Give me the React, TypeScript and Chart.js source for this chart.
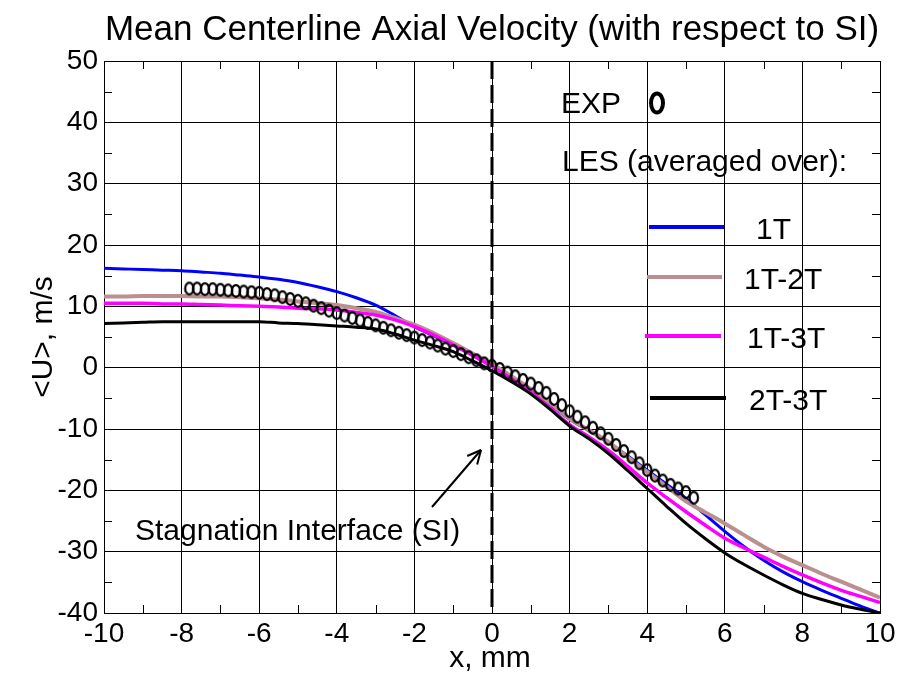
import { useEffect, useRef } from "react";
import { Chart, registerables } from "chart.js";

Chart.register(...registerables);

const FONT = '"Liberation Sans", Arial, Helvetica, sans-serif';

const lineX = [
  -10, -9.5, -9, -8.5, -8, -7.5, -7, -6.5, -6, -5.5, -5, -4.5, -4, -3.5, -3, -2.5, -2, -1.5, -1, -0.5,
  0, 0.5, 1, 1.5, 2, 2.5, 3, 3.5, 4, 4.5, 5, 5.5, 6, 6.5, 7, 7.5, 8, 8.5, 9, 9.5, 10,
];

const u1T = [
  16.2, 16.1, 16.0, 15.9, 15.8, 15.6, 15.4, 15.1, 14.8, 14.4, 13.9, 13.2, 12.4, 11.4, 10.2, 8.5, 6.7, 5.2, 3.7, 2.1,
  0.5, -1.5, -3.6, -6.0, -8.4, -10.3, -12.2, -14.4, -16.7, -19.0, -21.3, -24.0, -26.7, -29.2, -31.4, -33.3, -34.9, -36.3, -37.6, -38.9, -40.0,
];

const u1T2T = [
  11.6, 11.6, 11.7, 11.7, 11.7, 11.6, 11.6, 11.5, 11.3, 11.1, 10.8, 10.5, 10.2, 9.7, 9.1, 8.1, 7.0, 5.6, 4.0, 2.3,
  0.6, -1.4, -3.5, -5.8, -8.3, -10.2, -12.1, -14.6, -17.0, -19.4, -21.8, -23.6, -25.4, -27.3, -29.2, -30.8, -32.2, -33.6, -34.9, -36.2, -37.5,
];

const u1T3T = [
  10.5, 10.5, 10.5, 10.4, 10.4, 10.3, 10.2, 10.1, 10.0, 9.9, 9.7, 9.6, 9.4, 9.0, 8.6, 7.8, 6.7, 5.3, 3.7, 2.0,
  0.2, -1.8, -4.0, -6.6, -9.3, -11.3, -13.5, -16.1, -18.8, -21.2, -23.5, -25.7, -27.8, -29.4, -30.9, -32.4, -33.8, -35.1, -36.3, -37.3, -38.3,
];

const u2T3T = [
  7.2, 7.3, 7.4, 7.5, 7.5, 7.5, 7.5, 7.5, 7.5, 7.3, 7.2, 7.0, 6.8, 6.6, 6.3, 5.5, 4.5, 3.6, 2.6, 1.1,
  -0.5, -2.3, -4.3, -6.8, -9.5, -11.6, -14.0, -16.8, -19.7, -22.6, -25.4, -27.9, -30.2, -32.1, -33.8, -35.4, -36.8, -37.8, -38.7, -39.4, -40.0,
];

const expX = [
  -7.8, -7.6, -7.4, -7.2, -7.0, -6.8, -6.6, -6.4, -6.2, -6.0, -5.8, -5.6, -5.4, -5.2, -5.0, -4.8, -4.6, -4.4, -4.2, -4.0,
  -3.8, -3.6, -3.4, -3.2, -3.0, -2.8, -2.6, -2.4, -2.2, -2.0, -1.8, -1.6, -1.4, -1.2, -1.0, -0.8, -0.6, -0.4, -0.2, 0.0,
  0.2, 0.4, 0.6, 0.8, 1.0, 1.2, 1.4, 1.6, 1.8, 2.0, 2.2, 2.4, 2.6, 2.8, 3.0, 3.2, 3.4, 3.6, 3.8, 4.0,
  4.2, 4.4, 4.6, 4.8, 5.0, 5.2,
];

const expU = [
  12.9, 12.9, 12.8, 12.8, 12.7, 12.6, 12.5, 12.4, 12.3, 12.2, 12.0, 11.8, 11.5, 11.2, 10.9, 10.5, 10.1, 9.7, 9.3, 8.9,
  8.5, 8.1, 7.7, 7.3, 6.9, 6.5, 6.1, 5.7, 5.3, 4.9, 4.5, 4.1, 3.6, 3.1, 2.7, 2.2, 1.7, 1.2, 0.7, 0.3,
  -0.2, -0.8, -1.4, -2.0, -2.6, -3.3, -4.1, -5.1, -6.1, -7.1, -8.0, -8.9, -9.8, -10.7, -11.6, -12.6, -13.6, -14.6, -15.6, -16.7,
  -17.6, -18.4, -19.1, -19.7, -20.3, -21.2,
];

const siLineY = [50, -40];
const xMinor = [-9, -7, -5, -3, -1, 1, 3, 5, 7, 9];
const yMinor = [45, 35, 25, 15, 5, -5, -15, -25, -35];

const legendItems = [
  { label: "1T", color: "#0000ff" },
  { label: "1T-2T", color: "#bc8f8f" },
  { label: "1T-3T", color: "#ff00ff" },
  { label: "2T-3T", color: "#000000" },
];

const pts = (xs: number[], ys: number[]) => xs.map((x, i) => ({ x, y: ys[i] }));

export default function App() {
  const ref = useRef<HTMLCanvasElement>(null);

  useEffect(() => {
    const canvas = ref.current!;
    const marker = document.createElement("canvas");
    marker.width = 14;
    marker.height = 16;
    const mc = marker.getContext("2d")!;
    mc.strokeStyle = "#000";
    mc.lineWidth = 2.2;
    mc.beginPath();
    mc.ellipse(7, 8, 4.2, 5.8, 0, 0, Math.PI * 2);
    mc.stroke();

    const decor = {
      id: "decor",
      afterDraw(chart: any) {
        const ctx: CanvasRenderingContext2D = chart.ctx;
        const { left, right, top, bottom } = chart.chartArea;
        const xs = chart.scales.x;
        const ys = chart.scales.y;
        const seg = (x1: number, y1: number, x2: number, y2: number) => {
          ctx.beginPath();
          ctx.moveTo(x1, y1);
          ctx.lineTo(x2, y2);
          ctx.stroke();
        };
        ctx.save();
        ctx.strokeStyle = "#000";
        ctx.lineWidth = 1;
        for (const v of xMinor) {
          const px = Math.round(xs.getPixelForValue(v)) + 0.5;
          seg(px, bottom, px, bottom - 8);
          seg(px, top, px, top + 8);
        }
        for (const v of yMinor) {
          const py = Math.round(ys.getPixelForValue(v)) + 0.5;
          seg(left, py, left + 8, py);
          seg(right, py, right - 8, py);
        }

        ctx.fillStyle = "#000";
        // title
        ctx.font = `35px ${FONT}`;
        ctx.textAlign = "center";
        ctx.textBaseline = "alphabetic";
        ctx.fillText("Mean Centerline Axial Velocity (with respect to SI)", 492, 40);

        // axis titles
        ctx.font = `30px ${FONT}`;
        ctx.fillText("x, mm", 490, 667);
        ctx.save();
        ctx.translate(52, 337);
        ctx.rotate(-Math.PI / 2);
        ctx.fillText("<U>, m/s", 0, 0);
        ctx.restore();

        // legend
        ctx.textAlign = "left";
        ctx.font = `30px ${FONT}`;
        ctx.fillText("EXP", 561, 113);
        ctx.lineWidth = 4;
        ctx.beginPath();
        ctx.ellipse(657, 103, 6, 9.5, 0, 0, Math.PI * 2);
        ctx.stroke();
        ctx.fillText("LES (averaged over):", 562, 171);
        const rows = [
          { y: 227, x1: 649, x2: 724, tx: 756 },
          { y: 277, x1: 647, x2: 722, tx: 744 },
          { y: 336, x1: 645, x2: 721, tx: 747 },
          { y: 398, x1: 650, x2: 726, tx: 749 },
        ];
        legendItems.forEach((it, i) => {
          const r = rows[i];
          ctx.strokeStyle = it.color;
          ctx.lineWidth = 4;
          seg(r.x1, r.y, r.x2, r.y);
          ctx.fillStyle = "#000";
          ctx.fillText(it.label, r.tx, r.y + 12);
        });

        // annotation
        ctx.fillText("Stagnation Interface (SI)", 135, 540);
        ctx.strokeStyle = "#000";
        ctx.lineWidth = 2;
        const tipX = 481, tipY = 450, fromX = 432, fromY = 507;
        seg(fromX, fromY, tipX, tipY);
        const ang = Math.atan2(tipY - fromY, tipX - fromX);
        const hl = 15;
        for (const d of [0.45, -0.45]) {
          seg(tipX, tipY, tipX - hl * Math.cos(ang + d), tipY - hl * Math.sin(ang + d));
        }
        ctx.restore();
      },
    };

    const lineDs = (label: string, ys: number[], color: string, width: number, order: number) => ({
      label,
      data: pts(lineX, ys),
      borderColor: color,
      backgroundColor: color,
      borderWidth: width,
      pointRadius: 0,
      showLine: true,
      cubicInterpolationMode: "monotone" as const,
      fill: false,
      order,
    });

    const chart = new Chart(canvas, {
      type: "scatter",
      data: {
        datasets: [
          {
            label: "EXP",
            data: pts(expX, expU),
            pointStyle: marker as any,
            pointRadius: 7,
            showLine: false,
            order: 0,
          },
          {
            label: "SI",
            data: siLineY.map((y) => ({ x: 0, y })),
            borderColor: "#000",
            borderWidth: 3,
            borderDash: [18, 6],
            pointRadius: 0,
            showLine: true,
            order: 1,
          },
          lineDs("2T-3T", u2T3T, "#000000", 3, 2),
          lineDs("1T-3T", u1T3T, "#ff00ff", 3.5, 3),
          lineDs("1T-2T", u1T2T, "#bc8f8f", 4, 4),
          lineDs("1T", u1T, "#0000ff", 3, 5),
        ],
      },
      options: {
        responsive: false,
        animation: false,
        events: [],
        layout: { padding: { top: 61, right: 28, left: 0, bottom: 0 } },
        plugins: {
          legend: { display: false },
          tooltip: { enabled: false },
          title: { display: false },
        },
        scales: {
          x: {
            type: "linear",
            min: -10,
            max: 10,
            afterFit: (s: any) => {
              s.height = 62;
            },
            ticks: {
              stepSize: 2,
              color: "#000",
              font: { family: FONT, size: 28 },
              padding: 4,
              maxRotation: 0,
              autoSkip: false,
            },
            grid: { color: "#000", lineWidth: 1, drawTicks: false },
            border: { color: "#000", width: 1 },
          },
          y: {
            type: "linear",
            min: -40,
            max: 50,
            afterFit: (s: any) => {
              s.width = 104;
            },
            ticks: {
              stepSize: 10,
              color: "#000",
              font: { family: FONT, size: 28 },
              padding: 6,
              autoSkip: false,
            },
            grid: { color: "#000", lineWidth: 1, drawTicks: false },
            border: { color: "#000", width: 1 },
          },
        },
      },
      plugins: [decor],
    });
    return () => chart.destroy();
  }, []);

  return (
    <div style={{ position: "absolute", left: 0, top: 0, width: 908, height: 675, background: "#fff" }}>
      <canvas ref={ref} width={908} height={675} style={{ display: "block" }} />
    </div>
  );
}
